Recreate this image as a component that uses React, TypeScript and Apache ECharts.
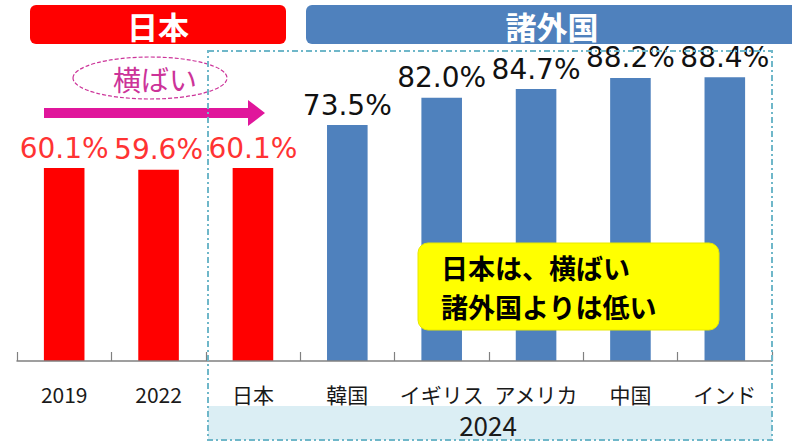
import React, { useEffect, useRef } from "react";
import * as echarts from "echarts";

const categories = ["2019", "2022", "日本", "韓国", "イギリス", "アメリカ", "中国", "インド"];
const japanValues = [60.1, 59.6, 60.1];
const foreignValues = [73.5, 82.0, 84.7, 88.2, 88.4];
const headerJapan = "日本";
const headerForeign = "諸外国";
const yearLabel = "2024";
const trendLabel = "横ばい";
const noteLines = ["日本は、横ばい", "諸外国よりは低い"];

const RED = "#ff0000";
const BLUE = "#4f81bd";
const JP_FONT = "'Noto Sans CJK JP', 'Noto Sans', sans-serif";

export default function App() {
  const ref = useRef<HTMLDivElement>(null);

  useEffect(() => {
    document.body.style.margin = "0";
    if (!ref.current) return;
    const chart = echarts.init(ref.current, null, { renderer: "svg" });

    const data = [
      ...japanValues.map((v) => ({
        value: v,
        itemStyle: { color: RED },
        label: { color: "#ff3333" },
      })),
      ...foreignValues.map((v) => ({
        value: v,
        itemStyle: { color: BLUE },
        label: { color: "#111111" },
      })),
    ];

    chart.setOption({
      animation: false,
      backgroundColor: "#ffffff",
      grid: { left: 17, right: 20, top: 40, bottom: 81 },
      xAxis: {
        type: "category",
        data: categories,
        z: 5,
        axisLine: { lineStyle: { color: "#808080", width: 1.5 } },
        axisTick: { show: true, interval: 0, inside: true, length: 9, lineStyle: { color: "#808080", width: 1.2 } },
        axisLabel: {
          interval: 0,
          fontFamily: JP_FONT,
          fontSize: 21,
          color: "#1a1a1a",
          margin: 22,
        },
      },
      yAxis: {
        type: "value",
        min: 0,
        max: 100,
        show: false,
        splitLine: { show: false },
      },
      series: [
        {
          type: "bar",
          data,
          barWidth: "43%",
          label: {
            show: true,
            position: "top",
            distance: 6,
            fontFamily: "'DejaVu Sans', sans-serif",
            fontSize: 28,
            formatter: (p: any) => `${Number(p.value).toFixed(1)}%`,
          },
          z: 3,
        },
      ],
      graphic: [
        // header bars
        {
          type: "rect",
          shape: { x: 30, y: 5, width: 256, height: 39, r: 6 },
          style: { fill: RED },
          z: 10,
        },
        {
          type: "text",
          x: 158,
          y: 25,
          style: {
            text: headerJapan,
            fill: "#ffffff",
            font: `bold 31px ${JP_FONT}`,
            align: "center",
            verticalAlign: "middle",
          },
          z: 11,
        },
        {
          type: "rect",
          shape: { x: 306, y: 5, width: 500, height: 39, r: [6, 0, 0, 6] },
          style: { fill: BLUE },
          z: 10,
        },
        {
          type: "text",
          x: 552,
          y: 25,
          style: {
            text: headerForeign,
            fill: "#ffffff",
            font: `bold 31px ${JP_FONT}`,
            align: "center",
            verticalAlign: "middle",
          },
          z: 11,
        },
        // 2024 band
        {
          type: "rect",
          shape: { x: 208, y: 406, width: 564, height: 34 },
          style: { fill: "#dbeef4" },
          z: -10,
          silent: true,
        },
        {
          type: "text",
          x: 488,
          y: 424,
          style: {
            text: yearLabel,
            fill: "#1a1a1a",
            font: `26px ${JP_FONT}`,
            align: "center",
            verticalAlign: "middle",
          },
          z: 2,
        },
        // dashed frame
        {
          type: "rect",
          shape: { x: 208, y: 51, width: 564, height: 389 },
          style: {
            fill: "none",
            stroke: "#6fb7c9",
            lineWidth: 2,
            lineDash: [6, 3, 2, 3],
          },
          z: 100,
        },
        // trend ellipse
        {
          type: "ellipse",
          shape: { cx: 150, cy: 78, rx: 77, ry: 21 },
          style: {
            fill: "#ffffff",
            stroke: "#cc3399",
            lineWidth: 1.2,
            lineDash: [4, 2],
          },
          z: 20,
        },
        {
          type: "text",
          x: 155,
          y: 79,
          style: {
            text: trendLabel,
            fill: "#cc3399",
            font: `28px ${JP_FONT}`,
            align: "center",
            verticalAlign: "middle",
          },
          z: 21,
        },
        // arrow
        {
          type: "polygon",
          shape: {
            points: [
              [44, 108],
              [248, 108],
              [248, 100],
              [265, 113],
              [248, 126],
              [248, 118],
              [44, 118],
            ],
          },
          style: { fill: "#e0169b" },
          z: 20,
        },
        // note box
        {
          type: "rect",
          shape: { x: 418, y: 243, width: 301, height: 87, r: 10 },
          style: { fill: "#ffff00", stroke: "#e8e800", lineWidth: 1 },
          z: 30,
        },
        {
          type: "text",
          x: 441,
          y: 267,
          style: {
            text: noteLines[0],
            fill: "#000000",
            font: `bold 27px ${JP_FONT}`,
            align: "left",
            verticalAlign: "middle",
          },
          z: 31,
        },
        {
          type: "text",
          x: 441,
          y: 306,
          style: {
            text: noteLines[1],
            fill: "#000000",
            font: `bold 27px ${JP_FONT}`,
            align: "left",
            verticalAlign: "middle",
          },
          z: 31,
        },
      ],
    });

    return () => chart.dispose();
  }, []);

  return (
    <div
      ref={ref}
      style={{ position: "absolute", left: 0, top: 0, width: 792, height: 442 }}
    />
  );
}
